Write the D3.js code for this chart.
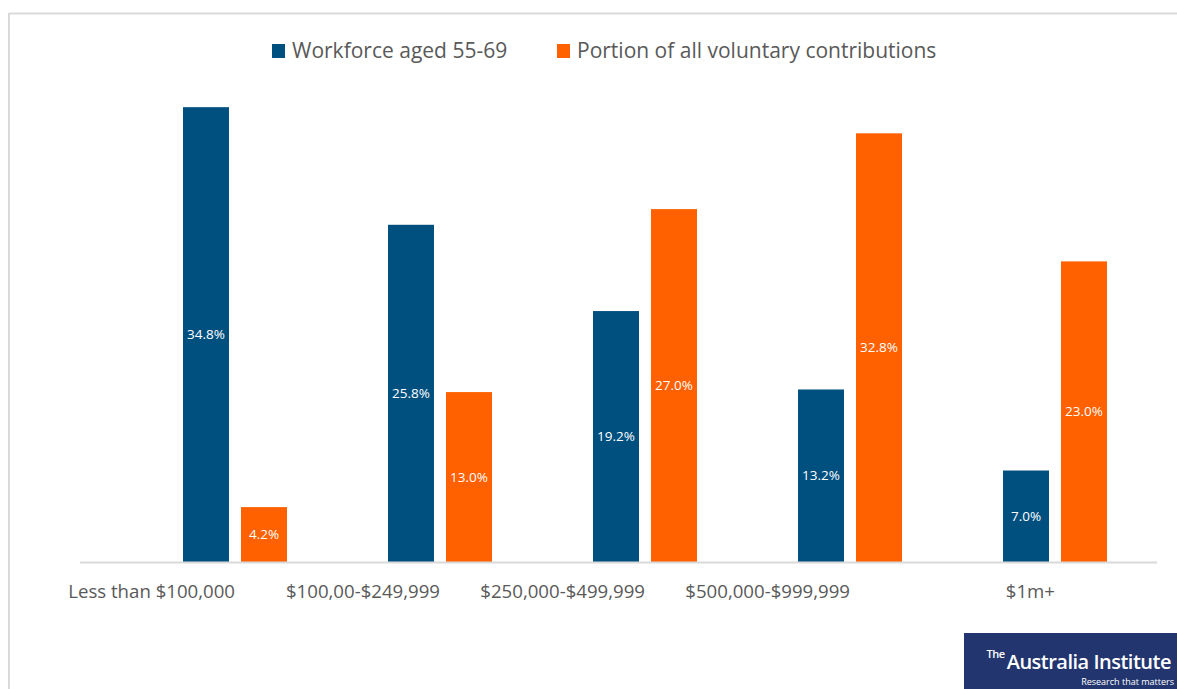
<!DOCTYPE html>
<html>
<head>
<meta charset="utf-8">
<script src="https://cdn.jsdelivr.net/npm/d3@7"></script>
<style>
  html, body { margin: 0; padding: 0; background: #fff; }
  svg { display: block; }
  text { font-family: "Open Sans", "Noto Sans", sans-serif; }
</style>
</head>
<body>
<svg id="chart" width="1177" height="689"></svg>
<script>
// Super balance bands and the share of each group
const categories = ["Less than $100,000", "$100,00-$249,999", "$250,000-$499,999", "$500,000-$999,999", "$1m+"];
const seriesNames = ["Workforce aged 55-69", "Portion of all voluntary contributions"];
const workforce = [34.8, 25.8, 19.2, 13.2, 7.0];
const contributions = [4.2, 13.0, 27.0, 32.8, 23.0];
const colors = ["#00507f", "#ff6000"];

const svg = d3.select("#chart");
const W = 1177, H = 689;
const baseY = 562;

// Frame lines (top and left)
svg.append("line").attr("x1", 9).attr("x2", W).attr("y1", 13.5).attr("y2", 13.5)
  .attr("stroke", "#d9d9d9").attr("stroke-width", 2);
svg.append("line").attr("x1", 9).attr("x2", 9).attr("y1", 13).attr("y2", H)
  .attr("stroke", "#d9d9d9").attr("stroke-width", 2);

const x0 = d3.scaleBand().domain(categories).range([132.5, 1157.5]).padding(0);
const x1 = d3.scaleBand().domain(seriesNames).range([-52, 52]).paddingInner(12 / 58).paddingOuter(0);
const y = d3.scaleLinear().domain([0, 40]).range([baseY, baseY - 40 * 13.07]);

const rows = categories.map((c, i) => ({ cat: c, vals: [workforce[i], contributions[i]] }));

// Bars
const groups = svg.append("g").selectAll("g").data(rows).join("g")
  .attr("transform", d => `translate(${x0(d.cat) + x0.bandwidth() / 2},0)`);

groups.selectAll("rect").data(d => d.vals.map((v, j) => ({ v, j })))
  .join("rect")
  .attr("x", d => x1(seriesNames[d.j]))
  .attr("width", x1.bandwidth())
  .attr("y", d => y(d.v))
  .attr("height", d => baseY - y(d.v))
  .attr("fill", d => colors[d.j]);

// Value labels, centred in each bar
groups.selectAll("text.val").data(d => d.vals.map((v, j) => ({ v, j })))
  .join("text")
  .attr("class", "val")
  .attr("x", d => x1(seriesNames[d.j]) + x1.bandwidth() / 2)
  .attr("y", d => (y(d.v) + baseY) / 2)
  .attr("dy", "0.35em")
  .attr("text-anchor", "middle")
  .attr("fill", "#fff")
  .attr("font-size", 13.5)
  .text(d => d.v.toFixed(1) + "%");

// Baseline
svg.append("line").attr("x1", 80).attr("x2", 1157).attr("y1", baseY + 0.5).attr("y2", baseY + 0.5)
  .attr("stroke", "#d9d9d9").attr("stroke-width", 2);

// Category labels
svg.append("g").selectAll("text").data(categories).join("text")
  .attr("x", d => x0(d) + x0.bandwidth() / 2)
  .attr("y", 598)
  .attr("text-anchor", "end")
  .attr("fill", "#595959")
  .attr("font-size", 19)
  .text(d => d)
  .each(function () {
    const w = this.getComputedTextLength();
    d3.select(this).attr("textLength", w * 0.98).attr("lengthAdjust", "spacingAndGlyphs");
  });

// Legend
const legendX = [272, 557];
const lg = svg.append("g").selectAll("g").data(seriesNames).join("g")
  .attr("transform", (d, i) => `translate(${legendX[i]},44)`);
lg.append("rect").attr("width", 13).attr("height", 14).attr("fill", (d, i) => colors[i]);
lg.append("text").attr("x", 20).attr("y", 14).attr("fill", "#595959").attr("font-size", 21)
  .text(d => d);

// Publisher badge
const badge = svg.append("g").attr("transform", "translate(964,633)");
badge.append("rect").attr("width", W - 964).attr("height", H - 633).attr("fill", "#22356f");
const name = badge.append("text").attr("x", W - 964 - 6).attr("y", 36)
  .attr("text-anchor", "end").attr("fill", "#fff").attr("font-size", 20)
  .attr("font-weight", 600).attr("letter-spacing", -0.5)
  .text("Australia Institute");
const nameLeft = name.node().getBBox().x;
badge.append("text").attr("x", nameLeft - 2).attr("y", 25)
  .attr("text-anchor", "end").attr("fill", "#fff").attr("font-size", 11)
  .attr("font-weight", 600).attr("letter-spacing", -0.5).text("The");
badge.append("text").attr("x", W - 964 - 3).attr("y", 52)
  .attr("text-anchor", "end").attr("fill", "#fff").attr("font-size", 9)
  .text("Research that matters");
</script>
</body>
</html>
